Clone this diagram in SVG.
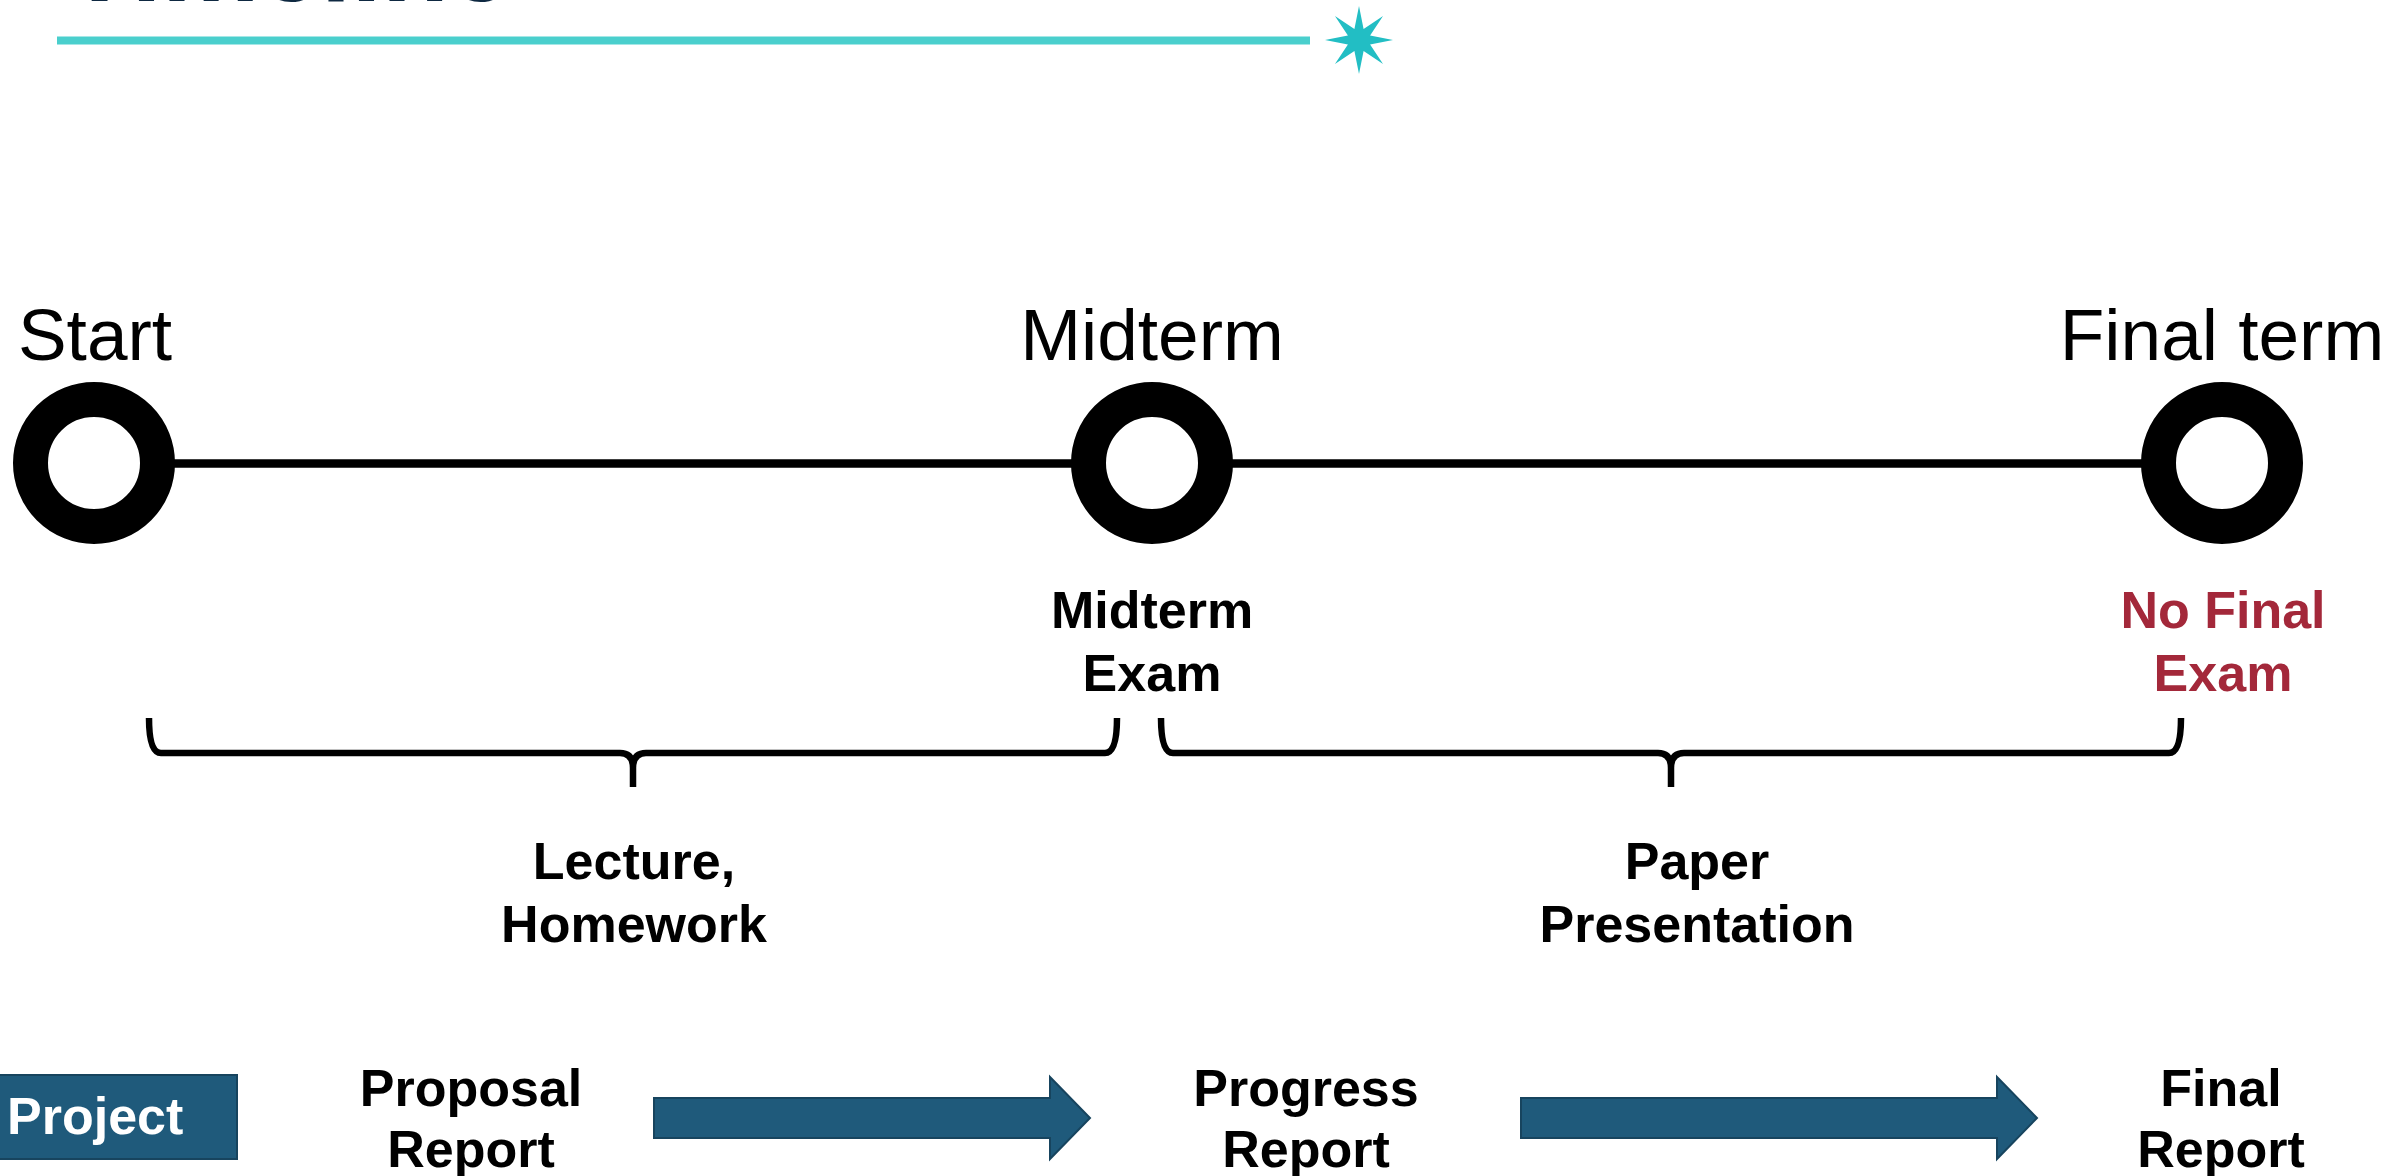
<svg xmlns="http://www.w3.org/2000/svg" width="2407" height="1176" viewBox="0 0 2407 1176">
  <style>
    .lbl { font-family: "Liberation Sans", Arial, sans-serif; font-size: 73px; fill: #000; text-anchor: middle; }
    .b { font-family: "Liberation Sans", Arial, sans-serif; font-size: 52px; font-weight: bold; fill: #000; text-anchor: middle; }
    .red { fill: #A3283A; }
    .ring { fill: #fff; stroke: #000; stroke-width: 35; }
    .brace { fill: none; stroke: #000; stroke-width: 6.5; stroke-linejoin: round; }
    .arrow { fill: #1F5A7B; stroke: #17445E; stroke-width: 2; }
  </style>
  <rect width="2407" height="1176" fill="#fff"/>
  <g id="title">
    <text x="66" y="0.5" font-family="Liberation Sans, Arial, sans-serif" font-size="110" font-weight="bold" fill="#0E2841">Timeline</text>
    <line x1="57" y1="40.5" x2="1310" y2="40.5" stroke="#4ACFCD" stroke-width="8"/>
    <polygon transform="translate(1359,40)" fill="#22BEC4" points="0,-34 4.59,-11.09 24.04,-24.04 11.09,-4.59 34,0 11.09,4.59 24.04,24.04 4.59,11.09 0,34 -4.59,11.09 -24.04,24.04 -11.09,4.59 -34,0 -11.09,-4.59 -24.04,-24.04 -4.59,-11.09"/>
  </g>
  <g id="connectors">
    <line x1="94" y1="463.5" x2="2222" y2="463.5" stroke="#000" stroke-width="8.5"/>
    <path class="brace" d="M149,718 Q149,753 161,753 L620,753 Q633,753 633,768 L633,787 M633,768 Q633,753 646,753 L1105,753 Q1117,753 1117,718"/>
    <path class="brace" d="M1161,718 Q1161,753 1173,753 L1658,753 Q1671,753 1671,768 L1671,787 M1671,768 Q1671,753 1684,753 L2169,753 Q2181,753 2181,718"/>
    <polygon class="arrow" points="654,1098 1050,1098 1050,1077 1090,1118 1050,1159 1050,1138 654,1138"/>
    <polygon class="arrow" points="1521,1098 1997,1098 1997,1077 2037,1118 1997,1159 1997,1138 1521,1138"/>
  </g>
  <g id="start">
    <text class="lbl" x="95" y="360">Start</text>
    <circle class="ring" cx="94" cy="463" r="63.5"/>
  </g>
  <g id="midterm">
    <text class="lbl" x="1152" y="360">Midterm</text>
    <circle class="ring" cx="1152" cy="463" r="63.5"/>
    <text class="b" x="1152" y="628">Midterm</text>
    <text class="b" x="1152" y="691">Exam</text>
  </g>
  <g id="finalterm">
    <text class="lbl" x="2222" y="360">Final term</text>
    <circle class="ring" cx="2222" cy="463" r="63.5"/>
    <text class="b red" x="2223" y="628">No Final</text>
    <text class="b red" x="2223" y="691">Exam</text>
  </g>
  <g id="lecture">
    <text class="b" x="634" y="879">Lecture,</text>
    <text class="b" x="634" y="942">Homework</text>
  </g>
  <g id="paper">
    <text class="b" x="1697" y="879">Paper</text>
    <text class="b" x="1697" y="942">Presentation</text>
  </g>
  <g id="project">
    <rect x="-10" y="1075" width="247" height="84" fill="#1F5A7B" stroke="#17445E" stroke-width="2"/>
    <text x="7" y="1134" font-family="Liberation Sans, Arial, sans-serif" font-size="52" font-weight="bold" fill="#fff">Project</text>
  </g>
  <g id="proposal">
    <text class="b" x="471" y="1106">Proposal</text>
    <text class="b" x="471" y="1167">Report</text>
  </g>
  <g id="progress">
    <text class="b" x="1306" y="1106">Progress</text>
    <text class="b" x="1306" y="1167">Report</text>
  </g>
  <g id="final">
    <text class="b" x="2221" y="1106">Final</text>
    <text class="b" x="2221" y="1167">Report</text>
  </g>
</svg>
